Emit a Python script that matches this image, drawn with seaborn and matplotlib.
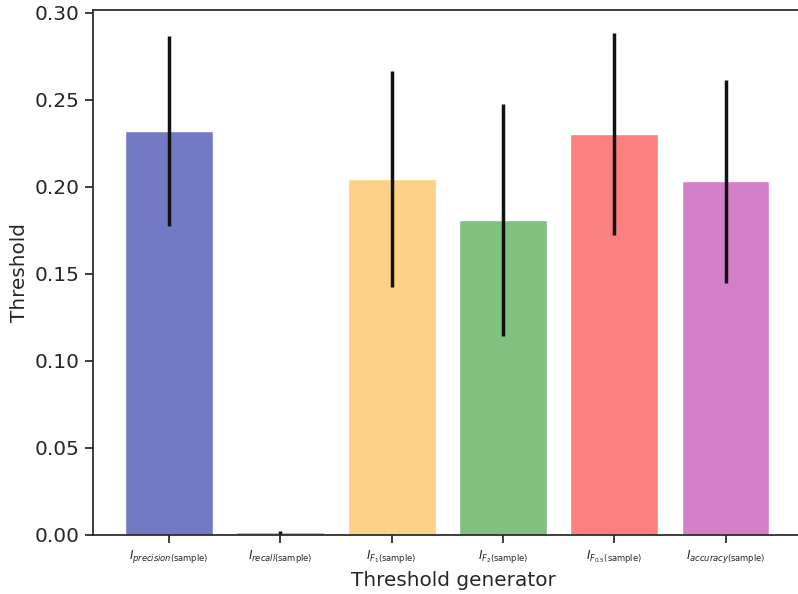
import matplotlib
matplotlib.use("Agg")
import matplotlib.pyplot as plt
import seaborn as sns
import pandas as pd

labels = [
    r"$I_{precision(\mathrm{sample})}$",
    r"$I_{recall(\mathrm{sample})}$",
    r"$I_{F_1(\mathrm{sample})}$",
    r"$I_{F_2(\mathrm{sample})}$",
    r"$I_{F_{0.5}(\mathrm{sample})}$",
    r"$I_{accuracy(\mathrm{sample})}$",
]
means = [0.2322, 0.0015, 0.2046, 0.1810, 0.2305, 0.2034]
errors = [0.0546, 0.0008, 0.0621, 0.0667, 0.0580, 0.0583]
colors = ["#7479C4", "#80C0BC", "#FDD187", "#80C180", "#FC8080", "#D480C8"]

df = pd.DataFrame({"gen": labels, "thr": means})

sns.set_style("ticks")
fig = plt.figure(figsize=(7.98, 5.94), dpi=100)
ax = fig.add_axes([93 / 798, 59 / 594, 720 / 798, 525 / 594])

sns.barplot(data=df, x="gen", y="thr", hue="gen", palette=colors,
            legend=False, width=0.79, saturation=1, errorbar=None, ax=ax)
ax.errorbar(x=range(len(means)), y=means, yerr=errors, fmt="none",
            ecolor="#111111", elinewidth=2.5, capsize=0)

ax.set_xlim(-0.683, -0.683 + 720 / 111.3)
ax.set_ylim(0, 0.3017)
ax.set_yticks([0.0, 0.05, 0.10, 0.15, 0.20, 0.25, 0.30])
ax.set_yticklabels(["0.00", "0.05", "0.10", "0.15", "0.20", "0.25", "0.30"])
ax.tick_params(axis="y", labelsize=14.5, length=6, width=1.25)
ax.tick_params(axis="x", labelsize=8.6, length=6, width=1.25)
ax.set_xlabel("Threshold generator", fontsize=14.4, labelpad=4)
ax.set_ylabel("Threshold", fontsize=14.4)
for s in ax.spines.values():
    s.set_visible(True)
    s.set_color("#262626")
    s.set_linewidth(1.25)
ax.spines["right"].set_visible(False)

fig.savefig("out.png", dpi=100)
